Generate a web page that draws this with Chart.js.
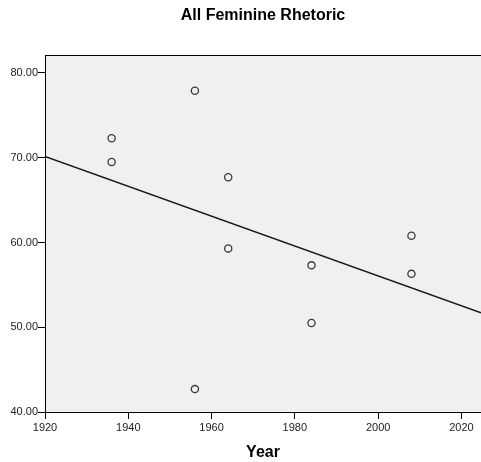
<!DOCTYPE html>
<html>
<head>
<meta charset="utf-8">
<script src="https://cdn.jsdelivr.net/npm/chart.js@4.4.1/dist/chart.umd.min.js"></script>
<style>
html,body{margin:0;padding:0;background:#fff;}
#wrap{width:481px;height:462px;}
</style>
</head>
<body>
<div id="wrap"><canvas id="c" width="481" height="462"></canvas></div>
<script>
// Data
const years = [1936, 1936, 1956, 1956, 1964, 1964, 1984, 1984, 2008, 2008];
const values = [72.3, 69.5, 77.9, 42.7, 67.7, 59.3, 57.3, 50.5, 60.8, 56.3];
const fitYears = [1920, 2024.7];
const fitValues = [70.15, 51.7];
const xTicks = [1920, 1940, 1960, 1980, 2000, 2020];
const yTicks = [40, 50, 60, 70, 80];

const bgPlugin = {
  id: 'plotBg',
  beforeDraw(chart) {
    const {ctx, chartArea: a} = chart;
    ctx.save();
    ctx.fillStyle = '#f0f0f0';
    ctx.fillRect(a.left, a.top, a.right - a.left, a.bottom - a.top);
    ctx.restore();
  },
  afterDatasetsDraw(chart) {
    const {ctx, chartArea: a} = chart;
    ctx.save();
    ctx.strokeStyle = '#000';
    ctx.lineWidth = 1;
    ctx.strokeRect(a.left + 0.5, a.top + 0.5, a.right - a.left, a.bottom - a.top);
    ctx.restore();
  }
};

new Chart(document.getElementById('c'), {
  type: 'scatter',
  data: {
    datasets: [
      {
        type: 'line',
        data: fitYears.map((x, i) => ({x, y: fitValues[i]})),
        borderColor: '#1a1a1a',
        borderWidth: 1.5,
        pointRadius: 0,
        fill: false,
        order: 2
      },
      {
        data: years.map((x, i) => ({x, y: values[i]})),
        pointRadius: 3.6,
        pointBorderWidth: 1.3,
        pointBorderColor: '#3a3a3a',
        pointBackgroundColor: 'rgba(0,0,0,0)',
        order: 1
      }
    ]
  },
  options: {
    responsive: false,
    animation: false,
    layout: {autoPadding: false, padding: {left: 0, right: 0, top: 0, bottom: 0}},
    plugins: {
      legend: {display: false},
      tooltip: {enabled: false},
      title: {
        display: true,
        text: 'All Feminine Rhetoric',
        fullSize: false,
        color: '#000',
        font: {family: 'Liberation Sans, Arial, sans-serif', size: 16, weight: 'bold'},
        padding: {top: 5.5, bottom: 30.3}
      }
    },
    scales: {
      x: {
        type: 'linear',
        min: 1920,
        max: 2024.7,
        afterFit: s => { s.height = 50; s.paddingRight = 0; s.paddingLeft = 0; },
        afterBuildTicks: s => { s.ticks = xTicks.map(v => ({value: v})); },
        border: {display: true, color: '#000', width: 1},
        grid: {display: true, drawOnChartArea: false, drawTicks: true, tickLength: 7, color: '#000'},
        ticks: {
          color: '#222',
          padding: 2,
          maxRotation: 0,
          font: {family: 'Liberation Sans, Arial, sans-serif', size: 11},
          callback: v => String(v)
        },
        title: {
          display: true,
          text: 'Year',
          color: '#000',
          font: {family: 'Liberation Sans, Arial, sans-serif', size: 16, weight: 'bold'},
          padding: {top: 0, bottom: 0}
        }
      },
      y: {
        type: 'linear',
        min: 40,
        max: 82.12,
        afterFit: s => { s.width = 45; },
        afterBuildTicks: s => { s.ticks = yTicks.map(v => ({value: v})); },
        border: {display: true, color: '#000', width: 1},
        grid: {display: true, drawOnChartArea: false, drawTicks: true, tickLength: 7, color: '#000'},
        ticks: {
          color: '#222',
          padding: 0,
          font: {family: 'Liberation Sans, Arial, sans-serif', size: 11},
          callback: v => Number(v).toFixed(2)
        }
      }
    }
  },
  plugins: [bgPlugin]
});
</script>
</body>
</html>
